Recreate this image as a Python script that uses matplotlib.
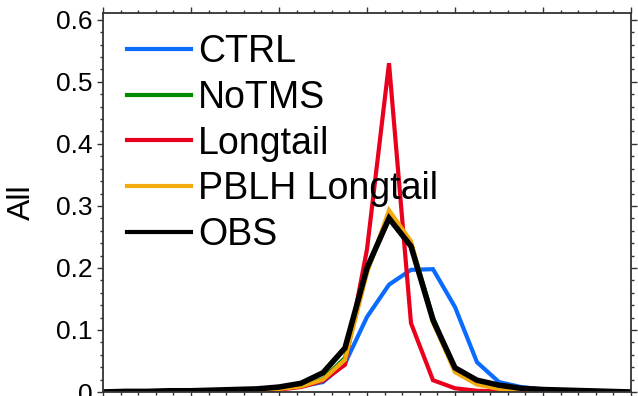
import numpy as np
import matplotlib
matplotlib.use("Agg")
import matplotlib.pyplot as plt
from matplotlib.ticker import MultipleLocator

plt.rcParams['font.family'] = ['Liberation Sans', 'DejaVu Sans']

# bin centres, -3 .. 3 in steps of 0.25
bins = np.arange(-3.0, 3.001, 0.25)

ctrl = [0.0, 0.001, 0.001, 0.001, 0.002, 0.002, 0.003, 0.004, 0.006, 0.009, 0.016, 0.046,
        0.121, 0.173, 0.197, 0.198, 0.137, 0.048, 0.016, 0.008, 0.004, 0.003, 0.002, 0.001, 0.0]
notms = [0.0, 0.001, 0.001, 0.001, 0.001, 0.002, 0.002, 0.003, 0.005, 0.009, 0.021, 0.055,
         0.195, 0.288, 0.240, 0.120, 0.034, 0.013, 0.006, 0.003, 0.002, 0.001, 0.001, 0.0, 0.0]
longtail = [0.0, 0.0, 0.001, 0.001, 0.001, 0.001, 0.002, 0.002, 0.004, 0.008, 0.018, 0.044,
            0.230, 0.530, 0.111, 0.019, 0.006, 0.002, 0.001, 0.001, 0.0, 0.0, 0.0, 0.0, 0.0]
pblh = [0.0, 0.001, 0.001, 0.001, 0.001, 0.002, 0.002, 0.003, 0.005, 0.009, 0.020, 0.052,
        0.192, 0.293, 0.243, 0.112, 0.032, 0.012, 0.005, 0.002, 0.001, 0.001, 0.0, 0.0, 0.0]
obs = [0.0, 0.001, 0.001, 0.002, 0.002, 0.003, 0.004, 0.005, 0.008, 0.014, 0.031, 0.071,
       0.200, 0.280, 0.235, 0.116, 0.039, 0.019, 0.011, 0.006, 0.004, 0.003, 0.002, 0.001, 0.0]

series = [
    ("CTRL", ctrl, "#0a6cff"),
    ("NoTMS", notms, "#008a00"),
    ("Longtail", longtail, "#e8001d"),
    ("PBLH Longtail", pblh, "#f2aa0c"),
    ("OBS", obs, "#000000"),
]

fig = plt.figure(figsize=(6.38, 3.96), dpi=100)
ax = fig.add_axes([103 / 638, 4 / 396, 528 / 638, 379 / 396])

for name, vals, col in series:
    lw = 4.0 if name == "OBS" else 3.0
    ax.plot(bins, vals, color=col, lw=lw, label=name, solid_joinstyle='miter')

ax.set_xlim(-3, 3)
ax.set_ylim(0, 0.611)
ax.xaxis.set_major_locator(MultipleLocator(1))
ax.xaxis.set_minor_locator(MultipleLocator(0.2))
ax.yaxis.set_minor_locator(MultipleLocator(0.02))
ax.set_yticks([0, 0.1, 0.2, 0.3, 0.4, 0.5, 0.6])
ax.set_yticklabels(["0", "0.1", "0.2", "0.3", "0.4", "0.5", "0.6"])
ax.tick_params(which='both', direction='out', top=True, right=True,
               labelbottom=False, width=1.0, color='#333333')
ax.tick_params(which='major', length=4.5, labelsize=19, pad=3)
ax.tick_params(which='minor', length=2.5)
for sp in ax.spines.values():
    sp.set_linewidth(1.3)
    sp.set_color('#333333')

ax.set_ylabel("All", fontsize=23, labelpad=14)

leg = ax.legend(loc='upper left', frameon=False, fontsize=27,
                handlelength=1.7, handletextpad=0.2, labelspacing=0.26,
                borderaxespad=0.0, bbox_to_anchor=(0.017, 0.984))
for line in leg.get_lines():
    line.set_linewidth(3.0)

fig.savefig("out.png", dpi=100)
